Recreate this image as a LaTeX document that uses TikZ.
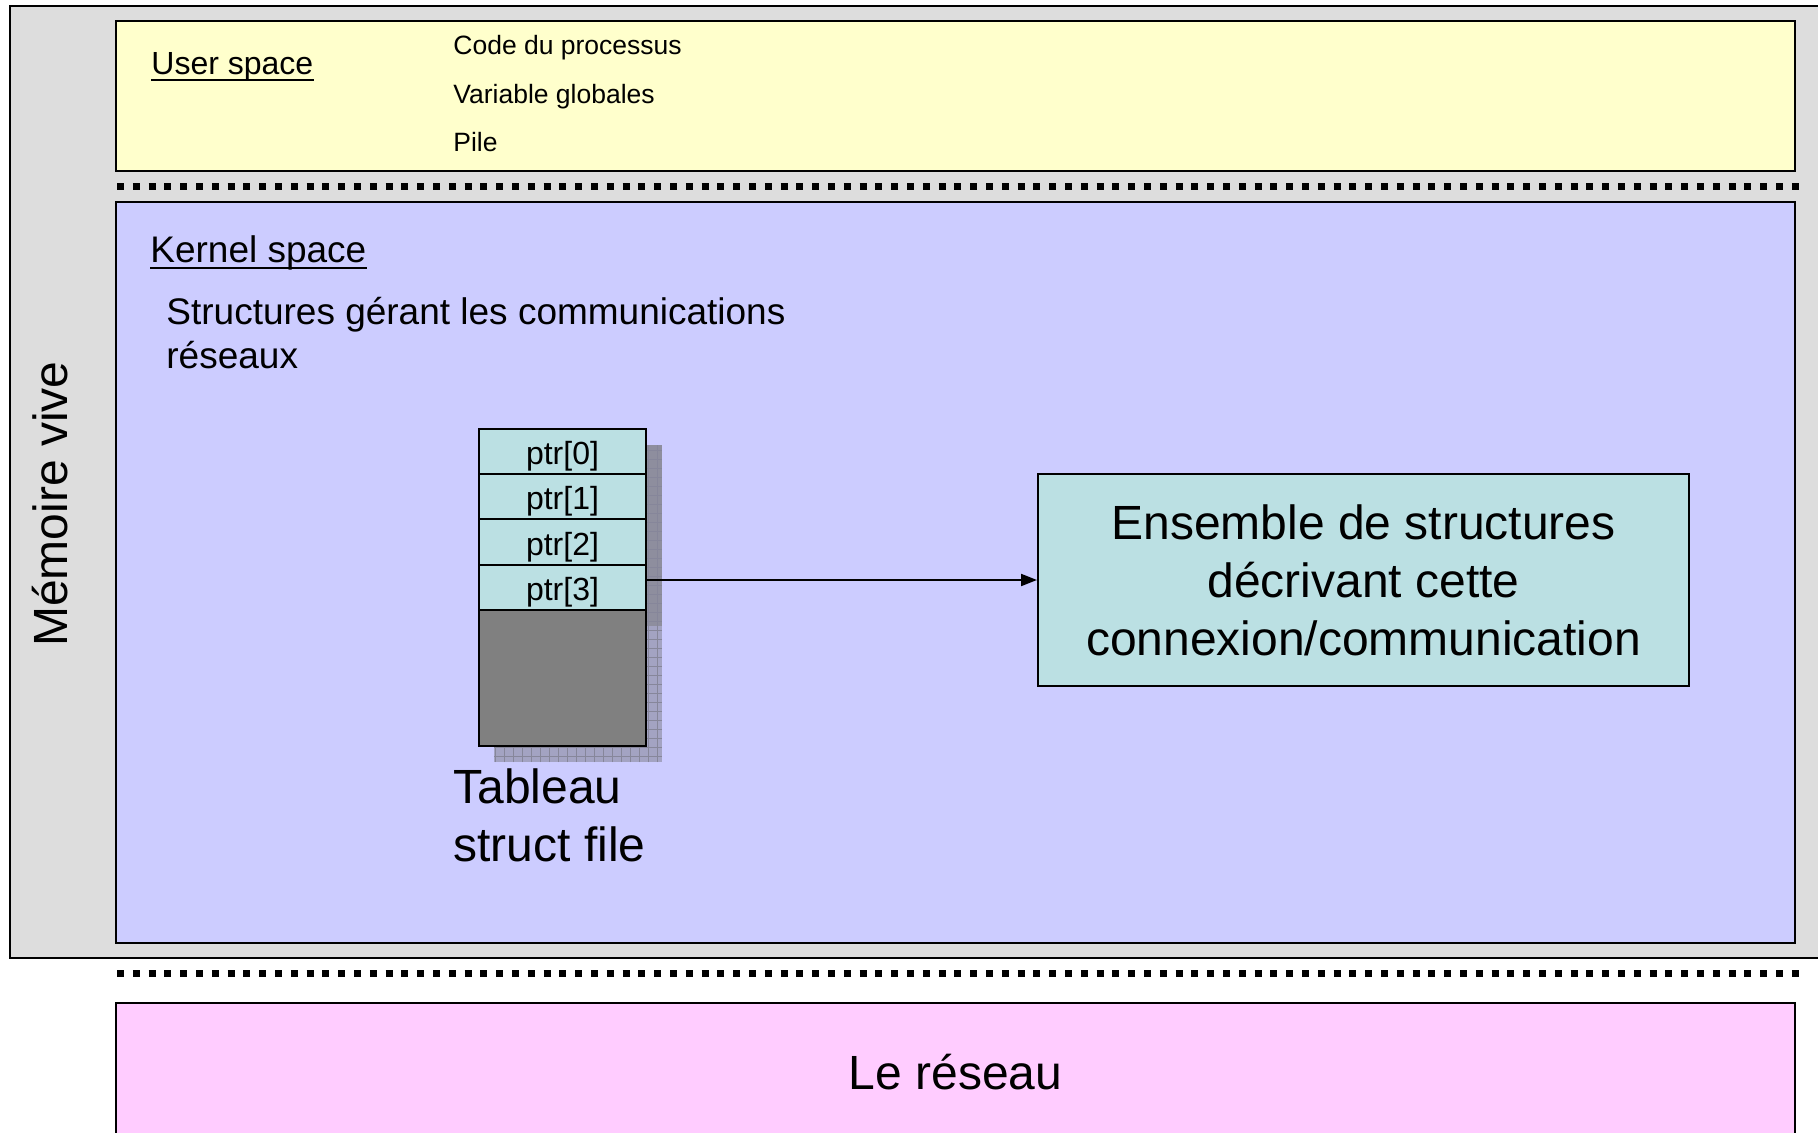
\documentclass[tikz,border=0pt]{standalone}
\usepackage{fontspec}
\setmainfont{Liberation Sans}
\usetikzlibrary{arrows.meta}
\definecolor{memgrey}{HTML}{DDDDDD}
\definecolor{userfill}{HTML}{FFFFCC}
\definecolor{kernfill}{HTML}{CCCCFF}
\definecolor{netfill}{HTML}{FFCCFF}
\definecolor{cellfill}{HTML}{BBE0E3}
\definecolor{restfill}{HTML}{808080}
\definecolor{shadowdark}{HTML}{8E8E9E}
\definecolor{shadowlight}{HTML}{A3A3C2}
\definecolor{shadowgrid}{HTML}{86869A}
\begin{document}
\begin{tikzpicture}[x=0.5pt,y=-0.5pt,
  zone/.style={draw=black,line width=1pt},
  sep/.style={line width=3.5pt,dash pattern=on 3.5pt off 4.4pt},
  cell/.style={draw=black,line width=1pt,fill=cellfill,minimum width=83.5pt,
    minimum height=22.6pt,inner sep=0pt,outer sep=0pt,
    text height=13pt,text depth=0pt,
    font=\fontsize{16}{19}\selectfont},
  big/.style={font=\fontsize{24}{29}\selectfont},
  mid/.style={font=\fontsize{18.5}{22}\selectfont},
  small/.style={font=\fontsize{13.25}{16}\selectfont},
  lbl/.style={inner sep=0pt,anchor=base west},
  uline/.style={line width=1.2pt},
  link/.style={line width=1pt,-{Triangle[length=8pt,width=6pt]}}
]
\useasboundingbox (0,0) rectangle (1818,1133);
\clip (0,0) rectangle (1818,1133);

% main memory background
\path[zone,line width=0.8pt,fill=memgrey] (10,6) rectangle (1840,958);

% user space
\path[zone,fill=userfill] (116,21) rectangle (1795,171);
\node[lbl,font=\fontsize{16}{19}\selectfont] (us) at (151,75) {User space};
\draw[uline] ([yshift=-2.6pt]us.base west) -- ([yshift=-2.6pt]us.base east);
\node[lbl,small] (code) at (453,55) {Code du processus};
\node[lbl,small] (vars) at (453,104) {Variable globales};
\node[lbl,small] (pile) at (453,152) {Pile};

% separators
\coordinate (s1a) at (117,187);
\coordinate (s1b) at (1806,187);
\coordinate (s2a) at (117,973);
\coordinate (s2b) at (1806,973);
\draw[sep] (s1a) -- (s1b);
\draw[sep] (s2a) -- (s2b);

% kernel space
\path[zone,fill=kernfill] (116,202) rectangle (1795,943);
\node[lbl,mid] (ks) at (150,263) {Kernel space};
\draw[uline] ([yshift=-2.6pt]ks.base west) -- ([yshift=-2.6pt]ks.base east);
\node[inner sep=0pt,anchor=north west,align=left,mid] (net) at (166,297)
  {Structures gérant les communications\\réseaux};

% shadow of the file table
\fill[shadowdark] (494,445) rectangle (662,626);
\fill[shadowlight] (494,626) rectangle (662,762);
\begin{scope}
  \clip (494,445) rectangle (662,762);
  \draw[shadowgrid,line width=0.4pt,step=4.5pt] (494,445) grid (662,762);
\end{scope}

% file table
\node[cell,anchor=north] (p0) at (562.5,429) {ptr[0]};
\node[cell,anchor=north] (p1) at (p0.south) {ptr[1]};
\node[cell,anchor=north] (p2) at (p1.south) {ptr[2]};
\node[cell,anchor=north] (p3) at (p2.south) {ptr[3]};
\node[cell,fill=restfill,minimum height=68pt,anchor=north] (rest) at (p3.south) {};
\node[inner sep=0pt,anchor=north west,align=left,big] (tab) at (453,768)
  {Tableau\\struct file};

% connection structures
\node[draw=black,line width=1pt,fill=cellfill,minimum width=325.5pt,
  minimum height=106pt,align=center,big] (ens) at (1363.5,580)
  {Ensemble de structures\\décrivant cette\\connexion/communication};
\draw[link] (ens.west -| p3.east) -- (ens.west);

% memory label
\node[big,rotate=90] (mem) at (50,504) {Mémoire vive};

% network
\path[zone,fill=netfill] (116,1003) rectangle (1795,1160);
\node[big] (res) at (955.5,1072) {Le réseau};
\end{tikzpicture}
\end{document}
